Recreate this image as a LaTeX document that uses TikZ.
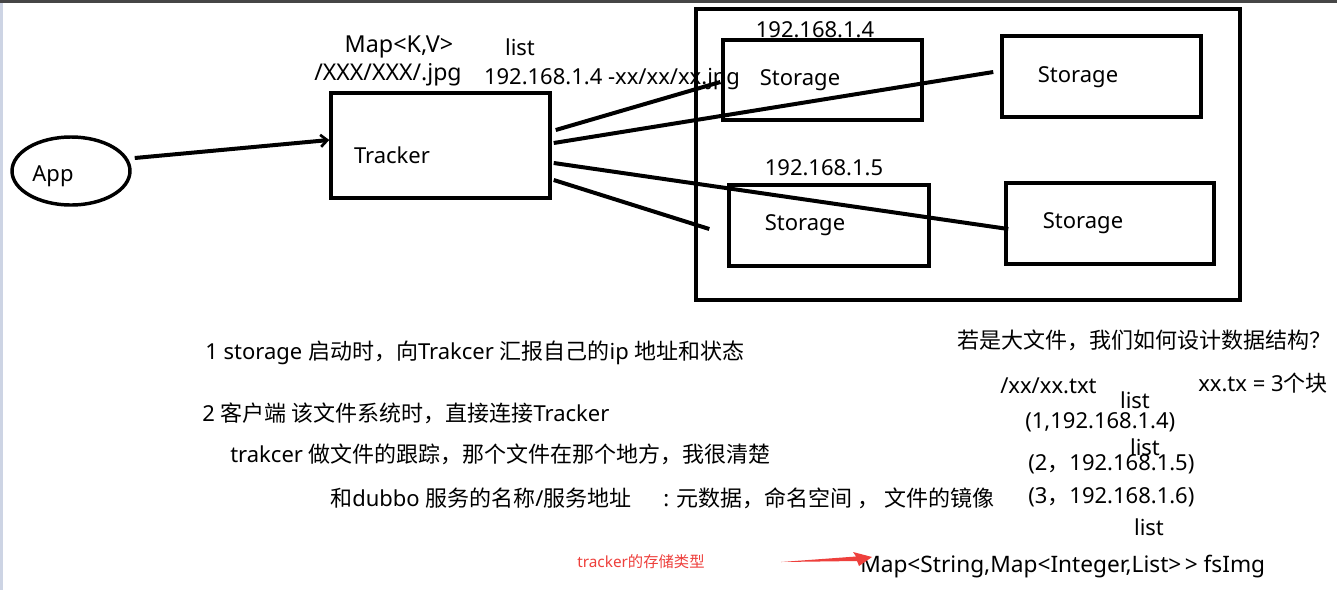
\documentclass[tikz,border=0pt]{standalone}
\usepackage{fontspec}
\setmainfont{Noto Sans}
\newfontfamily\cjk{Noto Sans CJK SC}
\usetikzlibrary{arrows.meta,shapes.geometric,calc}
\definecolor{noteRed}{RGB}{238,64,60}
\definecolor{edgeBlue}{RGB}{205,212,228}
\begin{document}
\begin{tikzpicture}[x=0.75pt,y=-0.75pt,
  every node/.style={font=\fontsize{16.5}{20}\selectfont, inner sep=0pt},
  box/.style={draw, line width=2.6pt, rectangle},
  conn/.style={line width=3pt},
  txt/.style={anchor=center},
  ltxt/.style={anchor=west}]
\useasboundingbox (0,0) rectangle (1337,590);
\fill[white] (0,0) rectangle (1337,590);
\fill[gray!55!black] (0,0) rectangle (1337,2.5);
\fill[edgeBlue] (0,2.5) rectangle (3,590);

% shapes
\node[box, ellipse, minimum width=118*0.75pt, minimum height=68*0.75pt] (app) at (71,171) {};
\node[box, minimum width=219*0.75pt, minimum height=105*0.75pt] (tracker) at (440.5,145.5) {};
\node[box, minimum width=544*0.75pt, minimum height=291*0.75pt] (group) at (968,154.5) {};
\node[box, minimum width=199*0.75pt, minimum height=80*0.75pt] (s1) at (822.5,80) {};
\node[box, minimum width=199*0.75pt, minimum height=81*0.75pt] (s2) at (1101.5,76.5) {};
\node[box, minimum width=200*0.75pt, minimum height=81*0.75pt] (s3) at (829,225.5) {};
\node[box, minimum width=208*0.75pt, minimum height=81*0.75pt] (s4) at (1110,223.5) {};

% labels inside shapes
\node[txt] (appt) at (53,176) {App};
\node[txt] (trt) at (392,155) {Tracker};
\node[txt] (s1t) at (800,80) {Storage};
\node[txt] (s2t) at (1078,77) {Storage};
\node[txt] (s3t) at (805,225) {Storage};
\node[txt] (s4t) at (1083,223) {Storage};

% labels above
\node[txt, font=\fontsize{17.5}{20}\selectfont] (mapkv) at (399,47) {Map<K,V>};
\node[txt, font=\fontsize{17.3}{20}\selectfont] (path) at (388,75) {/XXX/XXX/.jpg};
\node[txt] (list0) at (520,47) {list};
\node[txt] (ipfile) at (612,79) {192.168.1.4 -xx/xx/xx.jpg};
\node[txt] (ip4) at (815,30) {192.168.1.4};
\node[txt] (ip5) at (824,168) {192.168.1.5};

% connectors
\draw[conn, -{Straight Barb[length=5pt,width=9pt,line width=2pt]}] ($(app.east)+(3,-13)$) -- ($(tracker.west)+(0,-5.5)$);
\draw[conn] ($(tracker.east)+(4,-15.5)$) -- ($(s1.west)+(-1,2)$);
\draw[conn] ($(tracker.east)+(2,-2.5)$) -- ($(s2.west)+(-7,-4.5)$);
\draw[conn] ($(tracker.east)+(2,17.5)$) -- ($(s4.west)+(4,5.5)$);
\draw[conn] ($(tracker.east)+(2,34.5)$) -- ($(s3.west)+(-18,3.5)$);

% bottom-left notes
\node[ltxt] (n1) at (205,353) {1 storage {\cjk 启动时，向}Trakcer {\cjk 汇报自己的}ip {\cjk 地址和状态}};
\node[ltxt] (n2) at (202,413) {2 {\cjk 客户端 该文件系统时，直接连接}Tracker};
\node[ltxt] (n3) at (230,454) {trakcer {\cjk 做文件的跟踪，那个文件在那个地方，我很清楚}};
\node[ltxt] (n4) at (330,498) {{\cjk 和}dubbo {\cjk 服务的名称}/{\cjk 服务地址}};
\node[ltxt] (n5) at (663,498) {: {\cjk 元数据，命名空间 ， 文件的镜像}};

% right notes
\node[ltxt] (q) at (957,340) {{\cjk 若是大文件，我们如何设计数据结构？}};
\node[ltxt] (f) at (1000,386) {/xx/xx.txt};
\node[ltxt] (blocks) at (1198,383) {xx.tx = 3{\cjk 个块}};
\node[txt] (l1) at (1135,400) {list};
\node[ltxt] (b1) at (1025,422) {(1,192.168.1.4)};
\node[txt] (l2) at (1145,447) {list};
\node[ltxt] (b2) at (1028,464) {(2{\cjk ，}192.168.1.5)};
\node[ltxt] (b3) at (1028,497) {(3{\cjk ，}192.168.1.6)};
\node[txt] (l3) at (1149,527) {list};

% storage type
\node[ltxt, text=noteRed, font=\fontsize{11.5}{14}\selectfont] (rt) at (577,562) {tracker{\cjk 的存储类型}};
\node[ltxt, font=\fontsize{17}{20}\selectfont] (fs) at (860,567) {Map<String,Map<Integer,List>{\kern0.15em}> fsImg};
\coordinate (rtail) at (781,562);
\fill[noteRed] (rtail) -- (856,556.5) -- (853,552) -- (872,557) -- (859,566) -- (857,561) -- cycle;
\end{tikzpicture}
\end{document}
